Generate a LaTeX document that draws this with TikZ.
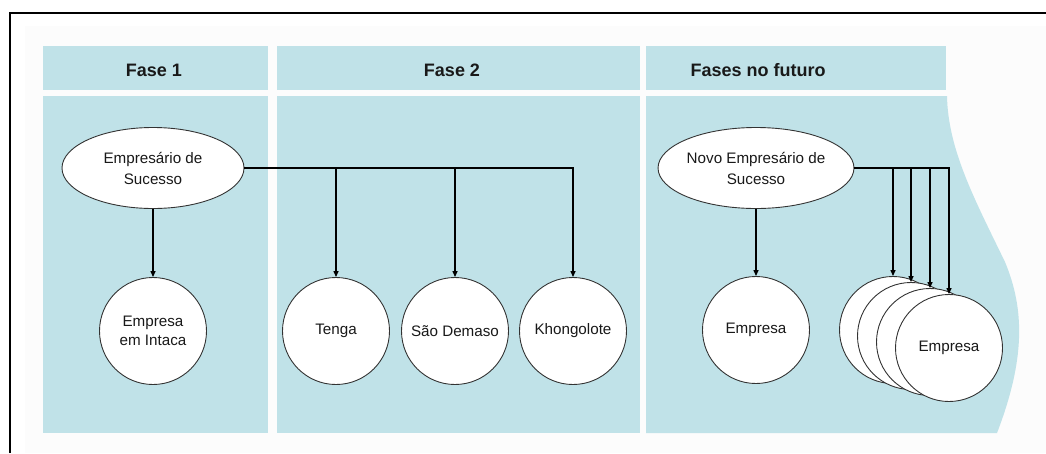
\documentclass[tikz,border=0pt]{standalone}
\usepackage{fontspec}
\setmainfont{Liberation Sans}
\usetikzlibrary{shapes.geometric,arrows.meta}
\definecolor{lane}{RGB}{192,226,232}
\definecolor{paper}{RGB}{252,252,252}
\begin{document}
\begin{tikzpicture}[x=1pt,y=-1pt,
  lanebox/.style={fill=lane,draw=none},
  hdr/.style={font=\fontsize{18}{20}\selectfont\bfseries,text=black!90,anchor=base,inner sep=0},
  lbl/.style={font=\fontsize{15.2}{19}\selectfont,align=center,text=black!90},
  oval/.style={ellipse,draw=black!80,fill=white,line width=0.9pt,minimum width=182,minimum height=81,inner sep=0,lbl,font=\fontsize{15.2}{21}\selectfont},
  firm/.style={circle,draw=black!80,fill=white,line width=0.9pt,minimum size=107,inner sep=0,lbl},
  conn/.style={line width=1.3pt,-{Triangle[length=6pt,width=5pt]}}]
\useasboundingbox (0,0) rectangle (1046,453);
\fill[white] (0,0) rectangle (1046,453);
\fill[paper] (25,26) rectangle (1046,453);
% frame
\draw[line width=2.2pt] (10,453) -- (10,13) -- (1046,13);
% lanes
\fill[lanebox] (43,46) rectangle (268,90);
\fill[lanebox] (43,96) rectangle (268,433);
\fill[lanebox] (277,46) rectangle (640,90);
\fill[lanebox] (277,96) rectangle (640,433);
\fill[lanebox] (646,46) rectangle (946,90);
\fill[lanebox] (646,96) -- (947,96) .. controls (948,150) and (975,200) .. (1005,262)
  .. controls (1025,310) and (1025,360) .. (997,433) -- (646,433) -- cycle;
% headers
\node[hdr] (h1) at (154,76) {Fase 1};
\node[hdr] (h2) at (452,76) {Fase 2};
\node[hdr] (h3) at (758,76) {Fases no futuro};
% nodes
\node[oval] (e1) at (153,168) {Empresário de\\Sucesso};
\node[firm] (intaca) at (153,331) {Empresa\\em Intaca};
\node[firm] (tenga) at (336,331) {Tenga};
\node[firm] (sao) at (455,331) {São Demaso};
\node[firm] (khon) at (573,331) {Khongolote};
\node[oval] (e2) at (756,168) {Novo Empresário de\\Sucesso};
\node[firm] (emp) at (756,330) {Empresa};
\node[firm] (s1) at (893,330) {};
\node[firm] (s2) at (911,336) {};
\node[firm] (s3) at (930,342) {};
\node[firm] (s4) at (949,348) {Empresa};
% connectors
\draw[conn] (e1.south) -- (intaca.north);
\draw[conn] (e1.east) -| (tenga.north);
\draw[conn] (e1.east) -| (sao.north);
\draw[conn] (e1.east) -| (khon.north);
\draw[conn] (e2.south) -- (emp.north);
\draw[conn] (e2.east) -| (s1.north);
\draw[conn] (e2.east) -| (s2.north);
\draw[conn] (e2.east) -| (s3.north);
\draw[conn] (e2.east) -| (s4.north);
\end{tikzpicture}
\end{document}
